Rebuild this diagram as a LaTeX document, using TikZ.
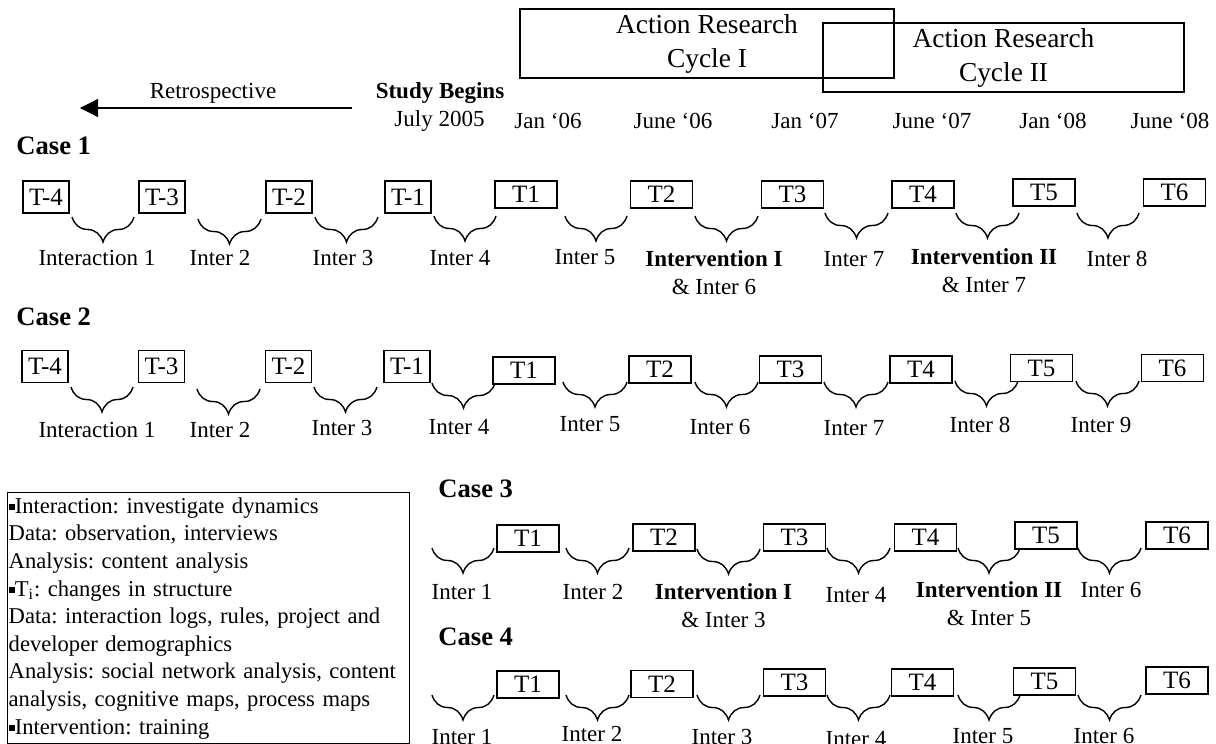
\documentclass[tikz,border=0pt]{standalone}
\usepackage{fontspec}
\setmainfont{Liberation Serif}
\usetikzlibrary{arrows.meta,decorations.pathreplacing}
\newcommand{\sqbul}{\rule[0.15em]{0.27em}{0.27em}}
\frenchspacing

\begin{document}
\begin{tikzpicture}[x=0.5pt,y=-0.5pt,
    tbox/.style={draw,line width=0.7pt,inner sep=0pt,minimum width=23pt,minimum height=16pt,font=\fontsize{12.5}{14}\selectfont},
    tlong/.style={tbox,minimum width=31pt,minimum height=13.5pt},
    lbl/.style={inner sep=0pt,align=center,font=\fontsize{11.5}{14}\selectfont},
    blbl/.style={lbl,font=\fontsize{11.5}{14}\selectfont\bfseries},
    casehd/.style={anchor=west,inner sep=0pt,font=\fontsize{13.3}{16}\selectfont\bfseries},
    cycbox/.style={draw,line width=0.7pt,align=center,inner sep=0pt,minimum height=34.5pt,font=\fontsize{13.7}{17}\selectfont},
    brc/.style={decorate,decoration={brace,mirror,amplitude=12.5pt},line width=0.7pt}]
            \useasboundingbox (0,0) rectangle (1216,744);

            % action research cycles
            \node[cycbox,minimum width=187pt] (cyc1) at (707,43.5) {Action Research\\Cycle I};
            \node[cycbox,minimum width=180.5pt] (cyc2) at (1003.5,57.5) {Action Research\\Cycle II};

            % time line
            \coordinate (rtail) at (352,108);
            \coordinate (rtip) at (80,108);
            \draw[-{Triangle[length=9pt,width=9pt]},line width=0.6pt] (rtail) -- (rtip);
            \node[lbl] (retro) at (213,93) {Retrospective};
            \node[blbl] (study) at (440,93) {Study Begins};
            \node[lbl] (d0) at (439.5,121) {July 2005};
            \node[lbl] (d1) at (548,121) {Jan ‘06};
            \node[lbl] (d2) at (673,121) {June ‘06};
            \node[lbl] (d3) at (805,121) {Jan ‘07};
            \node[lbl] (d4) at (932,121) {June ‘07};
            \node[lbl] (d5) at (1053,121) {Jan ‘08};
            \node[lbl] (d6) at (1170,121) {June ‘08};

            % Case 1
            \node[casehd] (case1) at (16,146) {Case 1};
            \node[tbox] (am4) at (46,197) {T-4};
            \node[tbox] (am3) at (162,197) {T-3};
            \node[tbox] (am2) at (289,197) {T-2};
            \node[tbox] (am1) at (408,197) {T-1};
            \node[tlong] (a1) at (526,194.5) {T1};
            \node[tlong] (a2) at (661.5,194.5) {T2};
            \node[tlong] (a3) at (792.5,194.5) {T3};
            \node[tlong] (a4) at (923,194.5) {T4};
            \node[tlong] (a5) at (1044,192.5) {T5};
            \node[tlong] (a6) at (1174.5,192.5) {T6};
            \draw[brc] (72,217) -- (134,217);
            \draw[brc] (198,219) -- (261,219);
            \draw[brc] (315,217) -- (378,217);
            \draw[brc] (434,216) -- (496,216);
            \draw[brc] (565,216) -- (627,216);
            \draw[brc] (695,216) -- (758,216);
            \draw[brc] (825,213) -- (888,213);
            \draw[brc] (956,213) -- (1019,213);
            \draw[brc] (1077,213) -- (1139,213);
            \node[lbl] (ai1) at (97,258) {Interaction 1};
            \node[lbl] (ai2) at (220,258) {Inter 2};
            \node[lbl] (ai3) at (343,258) {Inter 3};
            \node[lbl] (ai4) at (460,258) {Inter 4};
            \node[lbl] (ai5) at (585,257) {Inter 5};
            \node[lbl] (ai6) at (714,273) {\textbf{Intervention I}\\\& Inter 6};
            \node[lbl] (ai7) at (854,259) {Inter 7};
            \node[lbl] (ai8) at (984,270.5) {\textbf{Intervention II}\\\& Inter 7};
            \node[lbl] (ai9) at (1117,259) {Inter 8};

            % Case 2
            \node[casehd] (case2) at (16,317) {Case 2};
            \node[tbox] (bm4) at (45,366.5) {T-4};
            \node[tbox] (bm3) at (161.5,366.5) {T-3};
            \node[tbox] (bm2) at (288.5,366.5) {T-2};
            \node[tbox] (bm1) at (407,366.5) {T-1};
            \node[tlong] (b1) at (524,370.5) {T1};
            \node[tlong] (b2) at (660,369.5) {T2};
            \node[tlong] (b3) at (790.5,369.5) {T3};
            \node[tlong] (b4) at (921,369.5) {T4};
            \node[tlong] (b5) at (1041.5,368) {T5};
            \node[tlong] (b6) at (1172.5,368) {T6};
            \draw[brc] (71,387) -- (133,387);
            \draw[brc] (197,389) -- (260,389);
            \draw[brc] (314,387) -- (377,387);
            \draw[brc] (432,383) -- (495,383);
            \draw[brc] (563,382) -- (627,382);
            \draw[brc] (695,382) -- (758,382);
            \draw[brc] (824,382) -- (888,382);
            \draw[brc] (955,381) -- (1018,381);
            \draw[brc] (1076,381) -- (1139,381);
            \node[lbl] (bi1) at (97,430) {Interaction 1};
            \node[lbl] (bi2) at (220,430) {Inter 2};
            \node[lbl] (bi3) at (342,428) {Inter 3};
            \node[lbl] (bi4) at (459,427) {Inter 4};
            \node[lbl] (bi5) at (590,424) {Inter 5};
            \node[lbl] (bi6) at (720,427) {Inter 6};
            \node[lbl] (bi7) at (854,428) {Inter 7};
            \node[lbl] (bi8) at (980,425) {Inter 8};
            \node[lbl] (bi9) at (1101,425) {Inter 9};

            % legend
            \node[draw,line width=0.7pt,anchor=north west,align=left,text width=200pt,minimum height=125.5pt,inner xsep=0.5pt,inner ysep=0pt,font=\fontsize{11.3}{13.8}\selectfont] (legend) at (7,492) {\sqbul Interaction: investigate dynamics\\
                Data: observation, interviews\\
                Analysis: content analysis\\
                \sqbul T\textsubscript{i}: changes in structure\\
                Data: interaction logs, rules, project and\\
                developer demographics\\
                Analysis: social network analysis, content\\
                analysis, cognitive maps, process maps\\
                \sqbul Intervention: training};

            % Case 3
            \node[casehd] (case3) at (438,489) {Case 3};
            \node[tlong] (c1) at (528,538.5) {T1};
            \node[tlong] (c2) at (664,537.5) {T2};
            \node[tlong] (c3) at (794.5,537.5) {T3};
            \node[tlong] (c4) at (925.5,537.5) {T4};
            \node[tlong] (c5) at (1046,535.5) {T5};
            \node[tlong] (c6) at (1177,535.5) {T6};
            \draw[brc] (432,548) -- (494,548);
            \draw[brc] (566,548) -- (629,548);
            \draw[brc] (697,549) -- (760,549);
            \draw[brc] (827,548) -- (890,548);
            \draw[brc] (958,548) -- (1020,548);
            \draw[brc] (1078,548) -- (1141,548);
            \node[lbl] (ci1) at (462,592) {Inter 1};
            \node[lbl] (ci2) at (593,592) {Inter 2};
            \node[lbl] (ci3) at (723.5,605.5) {\textbf{Intervention I}\\\& Inter 3};
            \node[lbl] (ci4) at (856,595) {Inter 4};
            \node[lbl] (ci5) at (989,603.5) {\textbf{Intervention II}\\\& Inter 5};
            \node[lbl] (ci6) at (1111,590) {Inter 6};

            % Case 4
            \node[casehd] (case4) at (438,637) {Case 4};
            \node[tlong] (e1) at (528,684.5) {T1};
            \node[tlong] (e2) at (662,684) {T2};
            \node[tlong] (e3) at (794.5,682.5) {T3};
            \node[tlong] (e4) at (922.5,682.5) {T4};
            \node[tlong] (e5) at (1044.5,681.5) {T5};
            \node[tlong] (e6) at (1177,680.5) {T6};
            \draw[brc] (432,695) -- (494,695);
            \draw[brc] (566,695) -- (629,695);
            \draw[brc] (697,695) -- (760,695);
            \draw[brc] (827,695) -- (890,695);
            \draw[brc] (958,695) -- (1020,695);
            \draw[brc] (1078,695) -- (1141,695);
            \node[lbl] (ei1) at (462,737) {Inter 1};
            \node[lbl] (ei2) at (592,734) {Inter 2};
            \node[lbl] (ei3) at (722,737) {Inter 3};
            \node[lbl] (ei4) at (856,739) {Inter 4};
            \node[lbl] (ei5) at (983,736) {Inter 5};
            \node[lbl] (ei6) at (1104,736) {Inter 6};
        \end{tikzpicture}
\end{document}
